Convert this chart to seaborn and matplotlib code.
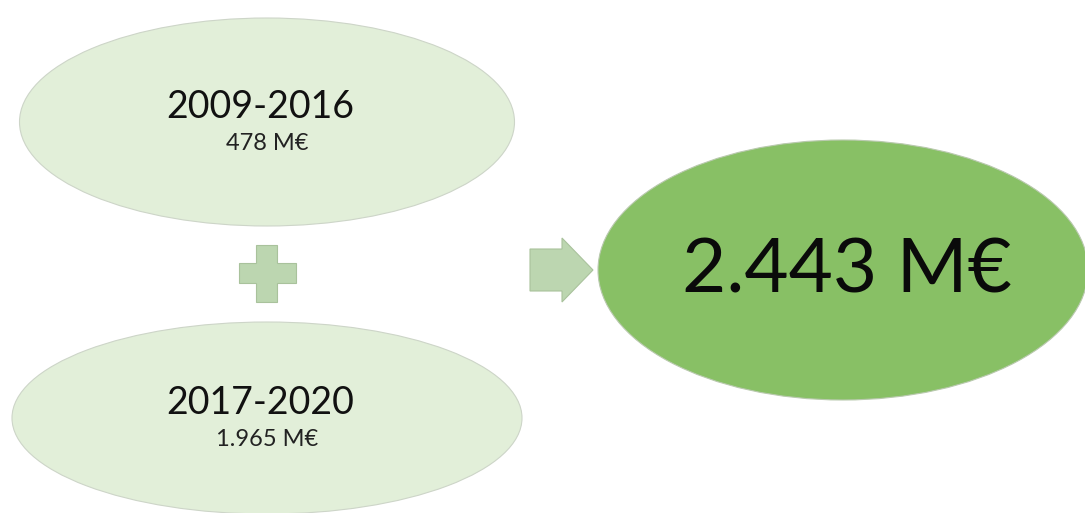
import matplotlib
matplotlib.use("Agg")
import matplotlib.pyplot as plt
from matplotlib.patches import Ellipse, Polygon
import seaborn as sns

periods = ["2009-2016", "2017-2020"]
amounts = ["478 M€", "1.965 M€"]
total = "2.443 M€"

sns.set_theme(style="white")
plt.rcParams['font.family'] = ['Lato', 'DejaVu Sans']

W, H = 1085, 513
fig = plt.figure(figsize=(W / 100, H / 100), dpi=100)
ax = fig.add_axes([0, 0, 1, 1])
ax.set_xlim(0, W)
ax.set_ylim(H, 0)
ax.axis("off")

light = "#e2efd9"
dark = "#88c065"
mid = "#bcd6b0"

# small ellipses: (cx, cy, w, h)
small = [(267, 122, 495, 208), (267, 418, 510, 192)]
for (cx, cy, w, h), p, a in zip(small, periods, amounts):
    ax.add_patch(Ellipse((cx, cy), w, h, facecolor=light, edgecolor="#cdd5c8", lw=0.8))
    ax.text(cx - 7, cy - 15, p, ha="center", va="center", fontsize=27, color="#111111")
    ax.text(cx, cy + 21, a, ha="center", va="center", fontsize=17, color="#222222")

# big ellipse
ax.add_patch(Ellipse((843, 270), 490, 260, facecolor=dark, edgecolor="#b9c9ae", lw=0.8))
ax.text(847, 271, total, ha="center", va="center", fontsize=55, color="#0a0a0a")

# plus sign
plus = [(256, 245), (277, 245), (277, 263), (296, 263), (296, 283), (277, 283),
        (277, 302), (256, 302), (256, 283), (239, 283), (239, 263), (256, 263)]
ax.add_patch(Polygon(plus, closed=True, facecolor=mid, edgecolor="#a9c29c", lw=0.8))

# arrow
arrow = [(530, 249), (562, 249), (562, 238), (593, 270), (562, 302), (562, 291), (530, 291)]
ax.add_patch(Polygon(arrow, closed=True, facecolor=mid, edgecolor="#a9c29c", lw=0.8))

fig.savefig("out.png", dpi=100, facecolor="white")
